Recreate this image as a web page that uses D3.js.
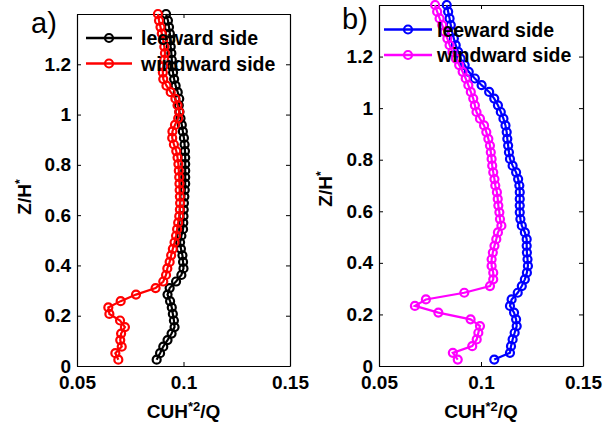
<!DOCTYPE html>
<html>
<head>
<meta charset="utf-8">
<script src="https://cdn.jsdelivr.net/npm/d3@7"></script>
<style>
  html, body { margin: 0; padding: 0; background: #fff; }
  svg { display: block; font-family: "Liberation Sans", Arial, Helvetica, sans-serif; }
</style>
</head>
<body>
<svg id="chart" width="604" height="425"></svg>
<script>
// ---- data ----
const zLevels = [0.025,0.051,0.077,0.103,0.129,0.155,0.181,0.207,0.233,0.258,
  0.284,0.310,0.336,0.362,0.388,0.414,0.440,0.466,0.492,0.518,
  0.544,0.570,0.596,0.622,0.648,0.674,0.700,0.725,0.751,0.777,
  0.803,0.829,0.855,0.881,0.907,0.933,0.959,0.985,1.011,1.037,
  1.063,1.089,1.115,1.141,1.167,1.192,1.218,1.244,1.270,1.296,
  1.322,1.348,1.374,1.400];

// panel a
const leewardA = [0.0874,0.0890,0.0905,0.0925,0.0944,0.0958,0.0955,0.0950,0.0945,0.0937,
  0.0925,0.0935,0.0965,0.0990,0.1000,0.0998,0.0995,0.0988,0.0984,0.0990,
  0.0998,0.0999,0.1000,0.1001,0.1002,0.1004,0.1006,0.1008,0.1008,0.1008,
  0.1008,0.1008,0.1007,0.1005,0.1002,0.0997,0.0992,0.0986,0.0981,0.0978,
  0.0980,0.0973,0.0963,0.0956,0.0951,0.0947,0.0945,0.0943,0.0940,0.0938,
  0.0936,0.0932,0.0927,0.0918];
const windwardA = [0.0694,0.0680,0.0710,0.0703,0.0707,0.0725,0.0702,0.0652,0.0647,0.0705,
  0.0777,0.0869,0.0905,0.0918,0.0924,0.0935,0.0942,0.0950,0.0958,0.0965,
  0.0970,0.0975,0.0980,0.0983,0.0984,0.0983,0.0982,0.0981,0.0980,0.0978,
  0.0976,0.0972,0.0966,0.0955,0.0947,0.0948,0.0960,0.0975,0.0980,0.0972,
  0.0962,0.0940,0.0920,0.0905,0.0903,0.0905,0.0910,0.0913,0.0910,0.0905,
  0.0898,0.0892,0.0885,0.0880];

// panel b
const leewardB = [0.1065,0.1142,0.1147,0.1155,0.1165,0.1175,0.1172,0.1162,0.1142,0.1150,
  0.1180,0.1200,0.1215,0.1225,0.1230,0.1228,0.1225,0.1224,0.1224,0.1215,
  0.1200,0.1193,0.1190,0.1190,0.1190,0.1190,0.1188,0.1182,0.1172,0.1155,
  0.1142,0.1137,0.1133,0.1129,0.1126,0.1120,0.1110,0.1097,0.1083,0.1065,
  0.1040,0.1003,0.0970,0.0940,0.0920,0.0900,0.0888,0.0876,0.0867,0.0858,
  0.0852,0.0846,0.0839,0.0832];
const windwardB = [0.0886,0.0862,0.0957,0.0979,0.0987,0.0995,0.0949,0.0791,0.0676,0.0730,
  0.0918,0.1044,0.1060,0.1060,0.1052,0.1052,0.1058,0.1066,0.1075,0.1083,
  0.1100,0.1093,0.1090,0.1085,0.1082,0.1078,0.1070,0.1066,0.1060,0.1055,
  0.1052,0.1048,0.1044,0.1036,0.1026,0.1015,0.0995,0.0978,0.0970,0.0962,
  0.0950,0.0938,0.0925,0.0910,0.0893,0.0877,0.0860,0.0846,0.0835,0.0822,
  0.0810,0.0797,0.0785,0.0775];

const xTicks = [0.05, 0.1, 0.15];
const yTicks = [0, 0.2, 0.4, 0.6, 0.8, 1, 1.2];
const xDomain = [0.05, 0.15];
const yDomain = [0, 1.4];
const seriesNames = ["leeward side", "windward side"];
const panelLabels = ["a)", "b)"];

// ---- layout ----
const panels = [
  { label: panelLabels[0], left: 77, right: 290, top: 14, bottom: 366,
    series: [{ values: leewardA, color: "#000000" }, { values: windwardA, color: "#ff0000" }],
    legend: { x0: 86, x1: 132, text: 141, y: [38, 63.5] },
    labelPos: { x: 31, y: 33 }, ylab: { x: 31, y: 197 } },
  { label: panelLabels[1], left: 379, right: 583, top: 5, bottom: 366,
    series: [{ values: leewardB, color: "#0000ff" }, { values: windwardB, color: "#ff00ff" }],
    legend: { x0: 384, x1: 432, text: 437, y: [29.5, 55] },
    labelPos: { x: 342, y: 29 }, ylab: { x: 332, y: 189 } }
];

const svg = d3.select("#chart");
const fmt = d3.format("~g");
const tickFont = 19;

panels.forEach(p => {
  const x = d3.scaleLinear().domain(xDomain).range([p.left, p.right]);
  const y = d3.scaleLinear().domain(yDomain).range([p.bottom, p.top]);
  const g = svg.append("g");

  const styleAxis = sel => {
    sel.selectAll("path.domain").attr("stroke", "#000").attr("stroke-width", 1.2);
    sel.selectAll(".tick line").attr("stroke", "#000").attr("stroke-width", 1);
    sel.selectAll("text").attr("font-size", tickFont).attr("font-weight", "bold")
      .attr("fill", "#000").attr("font-family", '"Liberation Sans", Arial, sans-serif');
  };
  g.append("g").attr("transform", `translate(0,${p.bottom})`)
    .call(d3.axisBottom(x).tickValues(xTicks).tickFormat(fmt).tickSizeInner(-4).tickSizeOuter(0).tickPadding(10))
    .call(styleAxis);
  g.append("g").attr("transform", `translate(0,${p.top})`)
    .call(d3.axisTop(x).tickValues(xTicks).tickFormat("").tickSizeInner(-4).tickSizeOuter(0))
    .call(styleAxis);
  g.append("g").attr("transform", `translate(${p.left},0)`)
    .call(d3.axisLeft(y).tickValues(yTicks).tickFormat(fmt).tickSizeInner(-4).tickSizeOuter(0).tickPadding(6))
    .call(styleAxis);
  g.append("g").attr("transform", `translate(${p.right},0)`)
    .call(d3.axisRight(y).tickValues(yTicks).tickFormat("").tickSizeInner(-4).tickSizeOuter(0))
    .call(styleAxis);

  p.series.forEach(s => {
    const pts = zLevels.map((z, i) => ({ z, v: s.values[i] }));
    const line = d3.line().x(d => x(d.v)).y(d => y(d.z));
    g.append("path").datum(pts).attr("d", line)
      .attr("fill", "none").attr("stroke", s.color).attr("stroke-width", 2.2);
    g.append("g").selectAll("circle").data(pts).join("circle")
      .attr("cx", d => x(d.v)).attr("cy", d => y(d.z)).attr("r", 4)
      .attr("fill", "none").attr("stroke", s.color).attr("stroke-width", 2.2);
  });

  p.series.forEach((s, i) => {
    const ly = p.legend.y[i];
    g.append("line").attr("x1", p.legend.x0).attr("x2", p.legend.x1)
      .attr("y1", ly).attr("y2", ly).attr("stroke", s.color).attr("stroke-width", 2.4);
    g.append("circle").attr("cx", (p.legend.x0 + p.legend.x1) / 2).attr("cy", ly).attr("r", 4)
      .attr("fill", "none").attr("stroke", s.color).attr("stroke-width", 2.2);
    g.append("text").attr("x", p.legend.text).attr("y", ly + 7)
      .attr("font-size", 19.5).attr("font-weight", "bold").attr("fill", "#000")
      .text(seriesNames[i]);
  });

  g.append("text").attr("x", p.labelPos.x).attr("y", p.labelPos.y)
    .attr("font-size", 29).attr("fill", "#000").text(p.label);

  const xl = g.append("text").attr("x", (p.left + p.right) / 2).attr("y", 418)
    .attr("text-anchor", "middle").attr("font-size", 19).attr("font-weight", "bold").attr("fill", "#000");
  xl.append("tspan").text("CUH");
  xl.append("tspan").attr("font-size", 13).attr("dy", -7).text("*2");
  xl.append("tspan").attr("dy", 7).text("/Q");

  const yl = g.append("text").attr("transform", `translate(${p.ylab.x},${p.ylab.y}) rotate(-90)`)
    .attr("text-anchor", "middle").attr("font-size", 19).attr("font-weight", "bold").attr("fill", "#000");
  yl.append("tspan").text("Z/H");
  yl.append("tspan").attr("font-size", 12).attr("dy", -7).text("*");
});
</script>
</body>
</html>
